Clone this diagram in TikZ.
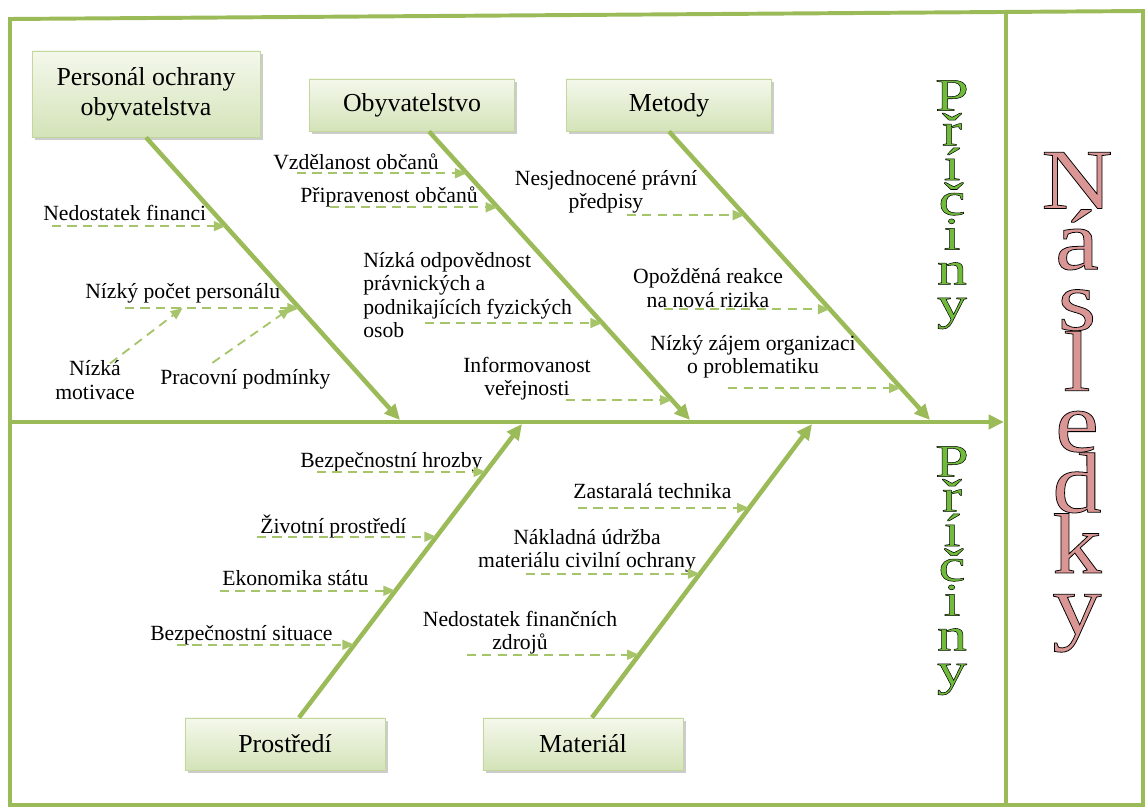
\documentclass[tikz,border=0pt]{standalone}
\usepackage{fontspec}
\setmainfont{Liberation Serif}
\newfontfamily\causefont[FakeBold=1.1, FakeStretch=1.3]{Liberation Serif}
\newfontfamily\effectfont[FakeBold=0.9, FakeStretch=1.15]{Liberation Serif}
\usetikzlibrary{arrows.meta,shadows}

\definecolor{bonegreen}{HTML}{9BBB59}
\definecolor{subgreen}{HTML}{A6C46A}
\definecolor{boxtop}{HTML}{F4F8EC}
\definecolor{boxbot}{HTML}{D4E3B8}
\definecolor{boxline}{HTML}{C3D69B}
\definecolor{causegreen}{RGB}{112,188,58}
\definecolor{effectpink}{RGB}{217,150,148}

% black stroke round coloured letters
\newcommand{\outl}{\special{pdf:literal direct 0 G}}

\begin{document}
\begin{tikzpicture}[x=0.025cm, y=-0.025cm,
    bone/.style={line width=3.2pt, bonegreen, -{Triangle[length=11pt,width=10pt]}},
    sub/.style={line width=1.3pt, subgreen, dash pattern=on 6.5pt off 4.5pt, -{Triangle[length=8.5pt,width=7pt]}},
    frame/.style={line width=2.8pt, bonegreen},
    head/.style={draw=boxline, line width=0.6pt, top color=boxtop, bottom color=boxbot,
        drop shadow={shadow xshift=2pt, shadow yshift=-2pt, fill=black!40, opacity=0.5},
        font={\fontsize{18.4}{21.5}\selectfont}, align=center, inner sep=0pt},
    lbl/.style={font={\fontsize{15.4}{16.6}\selectfont}, inner sep=0pt},
    cause/.style={causegreen, font={\causefont\fontsize{33}{24.7}\selectfont\lineskiplimit=-100pt}, align=center, inner sep=0pt, anchor=north},
    effect/.style={effectpink, font={\effectfont\fontsize{61}{43.2}\selectfont\lineskiplimit=-100pt}, align=center, inner sep=0pt, anchor=north}]
    \useasboundingbox (0,0) rectangle (1145,807);

    % Frame
    \draw[frame] (10,19) -- (1143,11) -- (1143,805) -- (10,805) -- cycle;
    \draw[frame] (1006,12) -- (1006,805);

    % Spine
    \coordinate (tail) at (10,422);
    \coordinate (head) at (1004,422);
    \draw[frame, -{Triangle[length=11pt,width=10pt]}] (tail) -- (head);
    \coordinate (t1) at (400,420);
    \coordinate (t2) at (690,420);
    \coordinate (t3) at (930,420);
    \coordinate (t4) at (522,424);
    \coordinate (t5) at (812,424);

    % Categories
    \node[head, minimum width=5.7cm, minimum height=2.15cm] (pers) at (146,94) {Personál ochrany\\obyvatelstva};
    \node[head, minimum width=5.125cm, minimum height=1.3cm] (obyv) at (412,105) {Obyvatelstvo};
    \node[head, minimum width=5.125cm, minimum height=1.3cm] (met) at (669,105) {Metody};
    \node[head, minimum width=5cm, minimum height=1.3cm] (prost) at (285,744) {Prostředí};
    \node[head, minimum width=5cm, minimum height=1.3cm] (mat) at (583,744) {Materiál};

    % Bones
    \draw[bone] (pers.south) -- (t1) coordinate[pos=0.314] (b11) coordinate[pos=0.604] (b12);
    \draw[bone] (obyv.south) ++(17,0) -- (t2) coordinate[pos=0.145] (b21) coordinate[pos=0.263] (b22)
        coordinate[pos=0.664] (b23) coordinate[pos=0.931] (b24);
    \draw[bone] (met.south) -- (t3) coordinate[pos=0.29] (b31) coordinate[pos=0.616] (b32) coordinate[pos=0.889] (b33);
    \draw[bone] (prost.north) ++(14,0) -- (t4) coordinate[pos=0.837] (b41) coordinate[pos=0.616] (b42)
        coordinate[pos=0.432] (b43) coordinate[pos=0.248] (b44);
    \draw[bone] (mat.north) ++(9,0) -- (t5) coordinate[pos=0.714] (b51) coordinate[pos=0.49] (b52) coordinate[pos=0.214] (b53);

    % Personál ochrany obyvatelstva
    \node[lbl, anchor=west] (fin) at (43,213) {Nedostatek financi};
    \draw[sub] (fin.west |- b11) ++(9,0) -- (b11);
    \node[lbl, anchor=west] (pocet) at (85,293) {Nízký počet personálu};
    \draw[sub] (pocet.west |- b12) ++(40,0) -- (b12) coordinate[pos=0.33] (m1) coordinate[pos=0.95] (m2);
    \node[lbl, align=center] (motiv) at (95,380) {Nízká\\motivace};
    \draw[sub] (motiv.north) ++(15,3) -- (m1);
    \node[lbl, anchor=west] (prac) at (160,379) {Pracovní podmínky};
    \draw[sub] (prac.north) ++(-33,-6) -- (m2);

    % Obyvatelstvo
    \node[lbl, anchor=west] (vzd) at (273,162) {Vzdělanost občanů};
    \draw[sub] (vzd.west |- b21) ++(24,0) -- (b21);
    \node[lbl, anchor=west] (prip) at (300,197) {Připravenost občanů};
    \draw[sub] (prip.west |- b22) ++(30,0) -- (b22);
    \node[lbl, anchor=west, align=left] (odp) at (363,295) {Nízká odpovědnost\\právnických a\\podnikajících fyzických\\osob};
    \draw[sub] (odp.west |- b23) ++(62,0) -- (b23);
    \node[lbl, align=center] (inf) at (527,379) {Informovanost\\veřejnosti};
    \draw[sub] (inf.east |- b24) ++(-25,0) -- (b24);

    % Metody
    \node[lbl, align=center] (nesj) at (606,192) {Nesjednocené právní\\předpisy};
    \draw[sub] (nesj.west |- b31) ++(112,0) -- (b31);
    \node[lbl, align=center] (opoz) at (708,288) {Opožděná reakce\\na nová rizika};
    \draw[sub] (opoz.west |- b32) ++(31,0) -- (b32);
    \node[lbl, align=center] (zajem) at (753,357) {Nízký zájem organizaci\\o problematiku};
    \draw[sub] (zajem.west |- b33) ++(78,0) -- (b33);

    % Prostředí
    \node[lbl, anchor=west] (hroz) at (300,462) {Bezpečnostní hrozby};
    \draw[sub] (hroz.west |- b41) ++(17,0) -- (b41);
    \node[lbl, anchor=west] (ziv) at (260,527) {Životní prostředí};
    \draw[sub] (ziv.west |- b42) ++(-3,0) -- (b42);
    \node[lbl, anchor=west] (eko) at (222,578) {Ekonomika státu};
    \draw[sub] (eko.west |- b43) ++(-2,0) -- (b43);
    \node[lbl, anchor=west] (sit) at (150,635) {Bezpečnostní situace};
    \draw[sub] (sit.west |- b44) ++(27,0) -- (b44);

    % Materiál
    \node[lbl, anchor=west] (zast) at (573,491) {Zastaralá technika};
    \draw[sub] (zast.west |- b51) ++(5,0) -- (b51);
    \node[lbl, align=center] (nakl) at (587,551) {Nákladná údržba\\materiálu civilní ochrany};
    \draw[sub] (nakl.west |- b52) ++(48,0) -- (b52);
    \node[lbl, align=center] (nedz) at (520,633) {Nedostatek finančních\\zdrojů};
    \draw[sub] (nedz.west |- b53) ++(44,0) -- (b53);

    % Příčiny / Následky
    \node[cause] (pric1) at (952,80) {\outl P\\\outl ř\\\outl í\\\outl č\\\outl i\\\outl n\\\outl y};
    \node[cause] (pric2) at (952,446) {\outl P\\\outl ř\\\outl í\\\outl č\\\outl i\\\outl n\\\outl y};
    \node[effect] (nasl) at (1077,152) {\outl N\\\outl á\\\outl s\\\outl l\\\outl e\\\outl d\\\outl k\\\outl y};
\end{tikzpicture}
\end{document}
